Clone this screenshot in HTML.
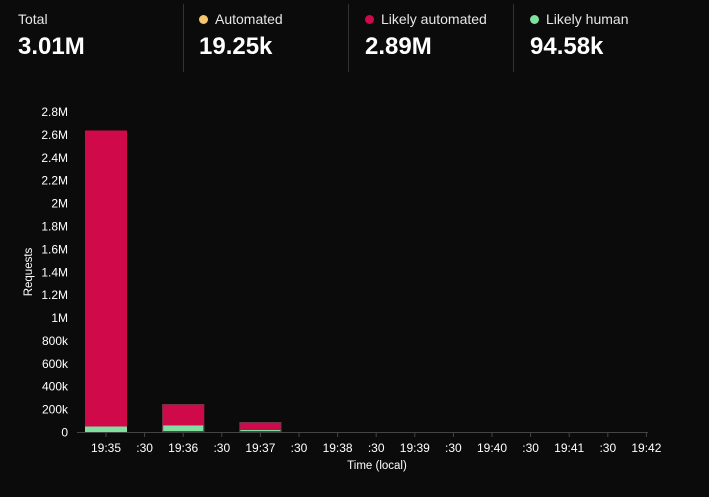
<!DOCTYPE html>
<html><head><meta charset="utf-8">
<style>
html,body{margin:0;padding:0;background:#0b0b0b;}
body{width:709px;height:497px;overflow:hidden;font-family:"Liberation Sans",sans-serif;color:#fff;position:relative;}
.stat{position:absolute;top:0;height:72px;}
.lab{position:absolute;top:11px;font-size:14px;color:#e6e6e6;white-space:nowrap;}
.val{position:absolute;top:33px;font-size:24px;font-weight:bold;color:#fff;white-space:nowrap;}
.dot{display:inline-block;width:9px;height:9px;border-radius:50%;margin-right:7px;vertical-align:0px;}
.div{position:absolute;top:4px;width:1px;height:68px;background:#333;}
</style></head><body>
<div class="stat" style="left:18px"><div class="lab">Total</div><div class="val">3.01M</div></div>
<div class="div" style="left:183px"></div>
<div class="stat" style="left:199px"><div class="lab"><span class="dot" style="background:#f4c76c"></span>Automated</div><div class="val">19.25k</div></div>
<div class="div" style="left:348px"></div>
<div class="stat" style="left:365px"><div class="lab"><span class="dot" style="background:#d0094b"></span>Likely automated</div><div class="val">2.89M</div></div>
<div class="div" style="left:513px"></div>
<div class="stat" style="left:530px"><div class="lab"><span class="dot" style="background:#7fe0a0"></span>Likely human</div><div class="val">94.58k</div></div>
<svg id="chart" width="709" height="497" style="position:absolute;left:0;top:0" font-family="Liberation Sans, sans-serif"></svg>
<script>
const categories=["19:35","19:36","19:37"];
const automated=[8000,4000,3000];
const likelyHuman=[40000,55000,16000];
const likelyAutomated=[2586000,185000,68000];
const yTicks=[0,200000,400000,600000,800000,1000000,1200000,1400000,1600000,1800000,2000000,2200000,2400000,2600000,2800000];
const yTickLabels=["0","200k","400k","600k","800k","1M","1.2M","1.4M","1.6M","1.8M","2M","2.2M","2.4M","2.6M","2.8M"];
const xTickLabels=["19:35",":30","19:36",":30","19:37",":30","19:38",":30","19:39",":30","19:40",":30","19:41",":30","19:42"];
const svg=document.getElementById('chart');
const NS="http://www.w3.org/2000/svg";
const y0=432,yTop=111.5,x0=77,x1=648;
const y=v=>y0-(v/2800000)*(y0-yTop);
const xTick=i=>106+i*38.6;
const xCat=i=>xTick(i*2);
function mk(t,a){const e=document.createElementNS(NS,t);for(const k in a)e.setAttribute(k,a[k]);svg.appendChild(e);return e;}
yTicks.forEach((v,i)=>{const t=mk('text',{x:68,y:y(v)+4.5,'text-anchor':'end','font-size':12,fill:'#fff'});t.textContent=yTickLabels[i];

});
const ax=mk('line',{x1:x0,x2:x1,y1:y0+0.5,y2:y0+0.5,stroke:'#444','stroke-width':1});


xTickLabels.forEach((l,i)=>{const tk=mk('line',{x1:xTick(i),x2:xTick(i),y1:y0,y2:y0+5,stroke:'#444'});


const t=mk('text',{x:xTick(i),y:452,'text-anchor':'middle','font-size':12,fill:'#fff'});t.textContent=l;

});
categories.forEach((c,i)=>{const cx=xCat(i),w=42;let base=0;
[[automated,'#f4c76c','bar-automated'],[likelyHuman,'#7fe0a0','bar-likely-human'],[likelyAutomated,'#d0094b','bar-likely-automated']].forEach(([arr,col,nm])=>{
const v=arr[i];const r=mk('rect',{x:cx-w/2,y:y(base+v),width:w,height:y(base)-y(base+v),fill:col});


base+=v;});
const o=mk('rect',{x:cx-w/2+0.5,y:y(base)+0.5,width:w-1,height:y(0)-y(base)-1,fill:'none',stroke:'#6a3a48','stroke-width':1,opacity:i?1:0});

});
const yt=mk('text',{x:0,y:0,transform:'translate(32,272) rotate(-90)','text-anchor':'middle','font-size':11.5,fill:'#fff'});yt.textContent='Requests';


const xt=mk('text',{x:377,y:469,'text-anchor':'middle','font-size':11.5,fill:'#fff'});xt.textContent='Time (local)';


</script>
</body></html>
